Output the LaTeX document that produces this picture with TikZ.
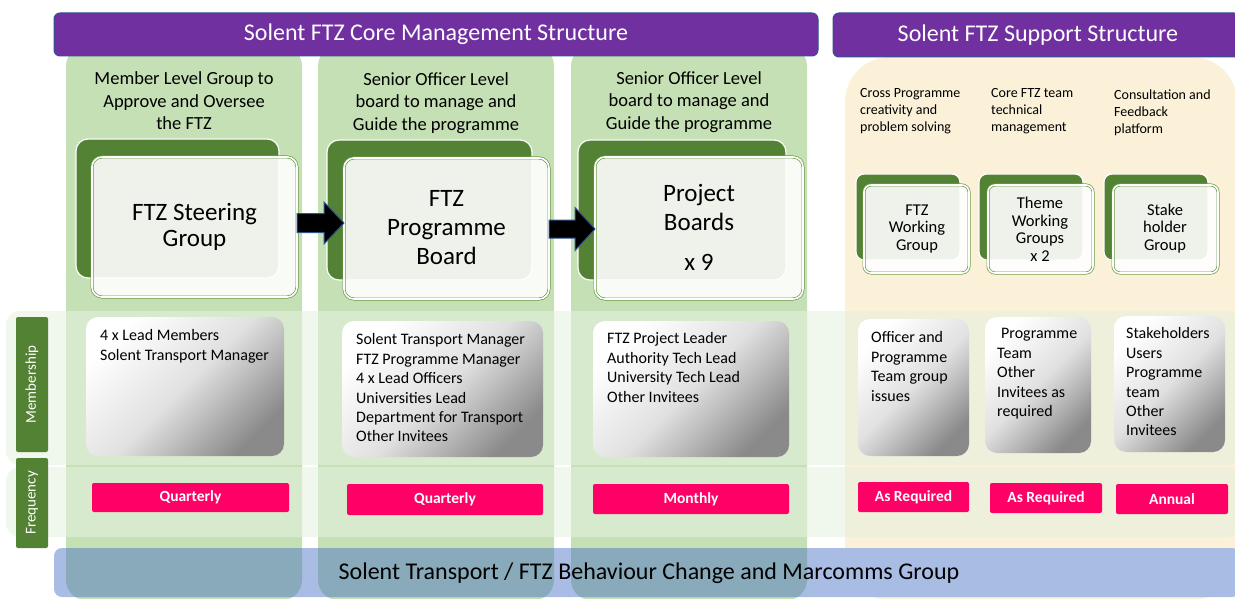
\documentclass[tikz,border=0pt]{standalone}
\usepackage{fontspec}
\setmainfont{Carlito}
\usetikzlibrary{calc}
\definecolor{hdr}{HTML}{7030A0}
\definecolor{hdrline}{HTML}{2F528F}
\definecolor{colgreen}{HTML}{C5E0B4}
\definecolor{dkgreen}{HTML}{548235}
\definecolor{frontline}{HTML}{6A9C48}
\definecolor{bandfill}{HTML}{E6F1DF}
\definecolor{blueband}{HTML}{A9BCE4}
\definecolor{overlapc}{HTML}{88AABB}
\definecolor{beige}{HTML}{FBF0D8}
\definecolor{pinkc}{HTML}{FF0066}
\definecolor{grayend}{HTML}{8A8A8A}
\newcommand\myfs[2]{\fontsize{#1}{#2}\selectfont}
\begin{document}
\begin{tikzpicture}[x=1pt,y=-1pt,
  hdrbox/.style={draw=hdrline, line width=1pt, fill=hdr, rounded corners=6, text=white, font=\myfs{24}{28}, inner sep=0, outer sep=0},
  backbox/.style={fill=dkgreen, draw=white, line width=1.2pt, rounded corners=12, inner sep=0, outer sep=0},
  sbackbox/.style={backbox, rounded corners=8},
  frontbox/.style={fill=white, fill opacity=0.9, text opacity=1, draw=frontline, double=white, double distance=1.6pt, line width=0.7pt, rounded corners=10, inner sep=0, outer sep=0, align=center},
  sfrontbox/.style={frontbox, rounded corners=7},
  bigtext/.style={font=\myfs{25}{29}, align=center, inner sep=0},
  smalltext/.style={font=\myfs{16.5}{17.5}, align=center, inner sep=0},
  subtitle/.style={font=\myfs{18.5}{22.5}, align=center, inner sep=0},
  desc/.style={font=\myfs{14}{17}, align=left, anchor=north west, inner sep=0},
  gbox/.style={rounded corners=12, top color=white, bottom color=grayend, middle color=black!12, shading angle=45, inner sep=0, outer sep=0},
  mtext/.style={font=\myfs{16}{19.4}, align=left, anchor=north west, inner sep=0},
  freq/.style={fill=pinkc, rounded corners=2, text=white, font=\bfseries\myfs{15.5}{18}, inner sep=0, outer sep=0},
  lab/.style={fill=dkgreen, rounded corners=2, text=white, font=\myfs{15}{18}, rotate=90, inner sep=0, outer sep=0},
  blockarrow/.style={fill=black, draw=hdrline, line width=1pt, line join=miter}
]
\useasboundingbox (0,0) rectangle (1235,599);
\clip (0,0) rectangle (1235,599);

% column panels
\fill[colgreen, rounded corners=20] (66,46) rectangle (302,600);
\fill[colgreen, rounded corners=20] (318,46) rectangle (554,600);
\fill[colgreen, rounded corners=20] (571,46) rectangle (807,600);
\fill[beige, rounded corners=45] (845,57) rectangle (1237,600);

% horizontal bands
\fill[bandfill, fill opacity=0.6, rounded corners=14] (6,311) rectangle (1240,465);
\fill[bandfill, fill opacity=0.6, rounded corners=14] (6,467) rectangle (1240,537);

% bottom band
\fill[blueband, rounded corners=8] (54,548) rectangle (1240,597);
\begin{scope}
  \clip[rounded corners=8] (54,548) rectangle (1240,597);
  \fill[overlapc, rounded corners=20] (66,46) rectangle (302,600);
  \fill[overlapc, rounded corners=20] (318,46) rectangle (554,600);
  \fill[overlapc, rounded corners=20] (571,46) rectangle (807,600);
\end{scope}
\node[font=\myfs{24}{28}, inner sep=0] (bottom) at (649,573) {Solent Transport / FTZ Behaviour Change and Marcomms Group};

% headers
\node[hdrbox, minimum width=764, minimum height=43] (h1) at (436,34.5) {Solent FTZ Core Management Structure};
\node[hdrbox, minimum width=407, minimum height=44] (h2) at (1036.5,35) {};
\node[font=\myfs{24}{28}, text=white, inner sep=0] (h2t) at (1038,35) {Solent FTZ Support Structure};

% subtitles
\node[subtitle] (s1) at (184,101) {Member Level Group to\\Approve and Oversee\\the FTZ};
\node[subtitle] (s2) at (436,103) {Senior Officer Level\\board to manage and\\Guide the programme};
\node[subtitle] (s3) at (689,102) {Senior Officer Level\\board to manage and\\Guide the programme};

% main group boxes
\node[backbox, minimum width=203, minimum height=139] (sgb) at (177.5,208.5) {};
\node[backbox, minimum width=205, minimum height=140] (pbb) at (429.5,210) {};
\node[backbox, minimum width=208, minimum height=140] (pjb) at (682,210) {};
\node[frontbox, minimum width=205, minimum height=140] (sgf) at (194.5,227) {};
\node[frontbox, minimum width=205, minimum height=141] (pbf) at (446.5,228.5) {};
\node[frontbox, minimum width=208, minimum height=142] (pjf) at (699,228) {};
\node[bigtext, font=\myfs{25}{26}] (sgt) at (194.5,227) {FTZ Steering\\Group};
\node[bigtext] (pbt) at (446.5,228) {FTZ\\Programme\\Board};
\node[bigtext] (pjt) at (699,227.5) {Project\\Boards\\[11pt]x 9};

% arrows
\coordinate (a1s) at ($(sgf.east)+(0,-4)$);
\coordinate (a1e) at (pbf.west |- a1s);
\draw[blockarrow] ($(a1s)+(0,-9.5)$) -- ($(a1e)+(-20,-9.5)$) -- ($(a1e)+(-20,-21)$) -- (a1e) -- ($(a1e)+(-20,21)$) -- ($(a1e)+(-20,9.5)$) -- ($(a1s)+(0,9.5)$) -- cycle;
\coordinate (a2s) at ($(pbf.east)+(0,0.5)$);
\coordinate (a2e) at (pjf.west |- a2s);
\draw[blockarrow] ($(a2s)+(0,-9)$) -- ($(a2e)+(-20,-9)$) -- ($(a2e)+(-20,-21.5)$) -- (a2e) -- ($(a2e)+(-20,21.5)$) -- ($(a2e)+(-20,9)$) -- ($(a2s)+(0,9)$) -- cycle;

% support descriptions
\node[desc] (d1) at (860,88) {Cross Programme\\creativity and\\problem solving};
\node[desc] (d2) at (991,88) {Core FTZ team\\technical\\management};
\node[desc] (d3) at (1114,90) {Consultation and\\Feedback\\platform};

% support group boxes
\node[sbackbox, minimum width=104, minimum height=86] (wgb) at (908,217) {};
\node[sbackbox, minimum width=104, minimum height=86] (twb) at (1031,217) {};
\node[sbackbox, minimum width=104, minimum height=86] (shb) at (1156,217) {};
\node[sfrontbox, minimum width=105, minimum height=88] (wgf) at (916.5,229) {};
\node[sfrontbox, minimum width=105, minimum height=88] (twf) at (1040.5,229) {};
\node[sfrontbox, minimum width=105, minimum height=88] (shf) at (1165.5,229) {};
\node[smalltext] (wgt) at (917,229) {FTZ\\Working\\Group};
\node[smalltext] (twt) at (1040,229.5) {Theme\\Working\\Groups\\x 2};
\node[smalltext] (sht) at (1165,228.5) {Stake\\holder\\Group};

% row labels
\node[lab, minimum width=135, minimum height=32] (lm) at (32,384.5) {Membership};
\node[lab, minimum width=90, minimum height=32] (lf) at (32,503) {Frequency};

% membership boxes
\node[gbox, minimum width=198, minimum height=139] (g1) at (185,386.5) {};
\node[gbox, minimum width=201, minimum height=136] (g2) at (442.5,389) {};
\node[gbox, minimum width=196, minimum height=136] (g3) at (691,389) {};
\node[gbox, minimum width=111, minimum height=137] (gA) at (913.5,387.5) {};
\node[gbox, minimum width=106, minimum height=136] (gB) at (1038,385) {};
\node[gbox, minimum width=111, minimum height=136] (gC) at (1169.5,384) {};
\node[mtext] (m1) at (100,329.5) {4 x Lead Members\\Solent Transport Manager};
\node[mtext] (m2) at (356,333.5) {Solent Transport Manager\\FTZ Programme Manager\\4 x Lead Officers\\Universities Lead\\Department for Transport\\Other Invitees};
\node[mtext] (m3) at (607,332.5) {FTZ Project Leader\\Authority Tech Lead\\University Tech Lead\\Other Invitees};
\node[mtext] (mA) at (871,331.5) {Officer and\\Programme\\Team group\\issues};
\node[mtext] (mB) at (997,328.5) {\hspace{4pt}Programme\\Team\\Other\\Invitees as\\required};
\node[mtext] (mC) at (1126,327.5) {Stakeholders\\Users\\Programme\\team\\Other\\Invitees};

% frequency boxes
\node[freq, minimum width=197, minimum height=29] (f1) at (190.5,497.5) {Quarterly};
\node[freq, minimum width=196, minimum height=31] (f2) at (445,499.5) {Quarterly};
\node[freq, minimum width=196, minimum height=30] (f3) at (691,499) {Monthly};
\node[freq, minimum width=111, minimum height=30] (fA) at (913.5,497) {As Required};
\node[freq, minimum width=112, minimum height=30] (fB) at (1046,498) {As Required};
\node[freq, minimum width=112, minimum height=30] (fC) at (1172,499) {Annual};
\end{tikzpicture}
\end{document}
